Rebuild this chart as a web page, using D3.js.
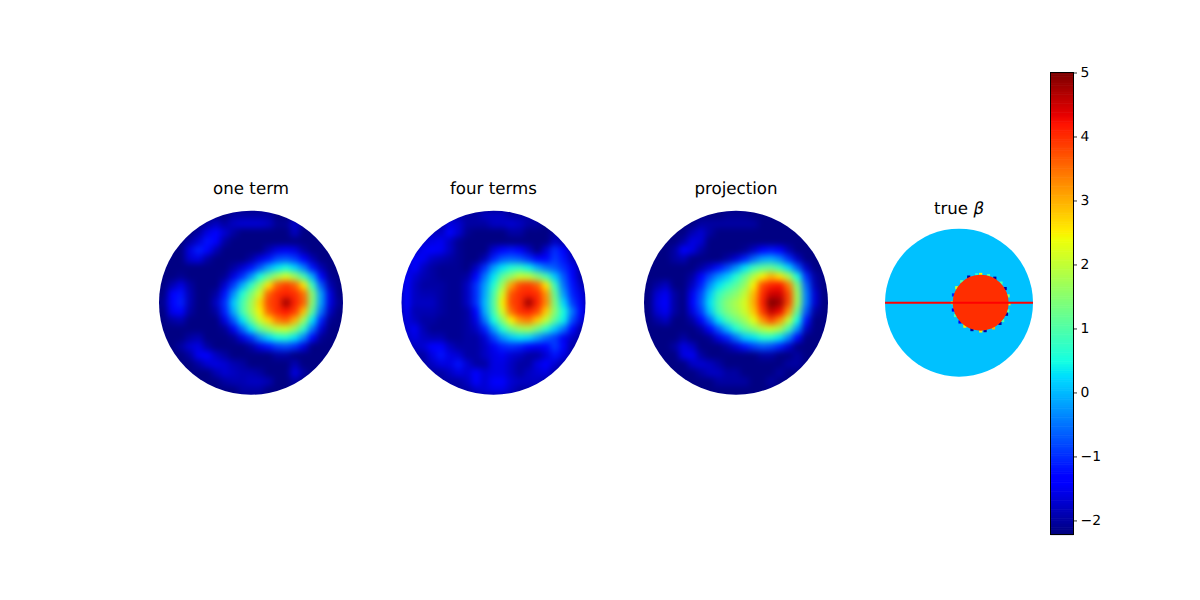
<!DOCTYPE html>
<html><head><meta charset="utf-8">
<script src="https://cdn.jsdelivr.net/npm/d3@7"></script>
<style>html,body{margin:0;background:#fff}svg{display:block}text{font-family:"DejaVu Sans",sans-serif;fill:#000;text-rendering:geometricPrecision}</style>
</head><body><svg id="c" width="1200" height="600"></svg>
<script>
const titles = ["one term","four terms","projection"];
const colorDomain = [-2.22,5];
const colorTicks = [-2,-1,0,1,2,3,4,5];
const oneTerm = [
[-2.2,-2.2,-2.2,-2.2,-2.2,-2.2,-2.2,-2.2,-2.0,-2.0,-2.0,-2.0,-2.0,-2.2,-2.2,-2.2,-2.2,-2.2,-2.2,-2.2,-2.2],
[-2.2,-2.2,-2.2,-2.2,-2.2,-2.0,-1.8,-2.0,-1.8,-1.7,-1.7,-1.7,-1.8,-2.1,-2.1,-1.7,-2.1,-2.2,-2.2,-2.2,-2.2],
[-2.2,-2.2,-2.2,-2.2,-2.0,-1.6,-1.3,-1.7,-2.0,-2.2,-2.2,-2.2,-2.2,-2.2,-2.2,-1.8,-2.2,-2.2,-2.2,-2.2,-2.2],
[-2.2,-2.2,-2.2,-2.0,-1.7,-1.2,-1.4,-2.0,-2.2,-2.2,-2.2,-2.2,-2.2,-2.2,-2.2,-2.2,-2.2,-2.2,-2.2,-2.2,-2.2],
[-2.2,-2.2,-2.2,-1.6,-1.1,-1.3,-1.9,-2.2,-2.2,-2.2,-2.2,-2.2,-1.9,-1.6,-1.5,-1.6,-2.0,-2.2,-2.2,-2.2,-2.2],
[-2.2,-2.2,-2.2,-1.7,-1.6,-2.0,-2.2,-2.2,-2.2,-2.2,-2.0,-1.6,-1.2,-0.8,-0.7,-0.9,-1.4,-1.9,-2.2,-2.2,-2.2],
[-2.2,-2.2,-2.2,-2.2,-2.2,-2.2,-2.2,-2.2,-2.0,-1.7,-1.2,-0.7,-0.1, 0.3, 0.5, 0.2,-0.4,-1.2,-1.9,-2.2,-2.2],
[-2.2,-2.2,-2.1,-2.2,-2.2,-2.2,-2.2,-2.1,-1.6,-1.0,-0.3, 0.5, 1.2, 1.8, 2.2, 1.7, 0.9,-0.1,-1.3,-2.1,-2.2],
[-2.2,-1.9,-1.6,-2.0,-2.2,-2.2,-2.2,-1.7,-0.9,-0.1, 0.7, 1.6, 2.6, 3.6, 3.9, 3.6, 2.6, 0.8,-0.7,-1.9,-2.2],
[-2.2,-1.4,-1.2,-1.9,-2.2,-2.2,-2.0,-1.2,-0.3, 0.6, 1.4, 2.2, 3.6, 4.0, 4.1, 4.0, 3.5, 1.5,-0.2,-1.6,-2.2],
[-2.1,-1.3,-1.1,-1.9,-2.2,-2.2,-1.8,-1.0, 0.1, 0.9, 1.7, 2.7, 3.8, 4.0, 4.8, 4.1, 3.6, 1.5,-0.2,-1.6,-2.1],
[-2.2,-1.5,-1.3,-2.0,-2.2,-2.2,-2.0,-1.1,-0.1, 0.9, 1.7, 2.5, 3.6, 4.0, 4.2, 3.9, 2.9, 1.1,-0.5,-1.8,-2.2],
[-2.2,-2.0,-1.9,-2.2,-2.2,-2.2,-2.2,-1.6,-0.7, 0.3, 1.2, 2.1, 2.7, 3.4, 3.6, 3.0, 1.7, 0.3,-1.1,-2.1,-2.2],
[-2.2,-2.2,-2.2,-2.2,-2.2,-2.2,-2.2,-2.1,-1.5,-0.6, 0.3, 1.1, 1.6, 2.0, 2.1, 1.6, 0.7,-0.5,-1.7,-2.2,-2.2],
[-2.2,-2.2,-2.2,-2.0,-1.9,-2.2,-2.2,-2.2,-2.1,-1.6,-1.0,-0.3, 0.2, 0.5, 0.6, 0.3,-0.4,-1.3,-2.1,-2.2,-2.2],
[-2.2,-2.2,-2.0,-1.7,-1.6,-2.0,-2.2,-2.2,-2.2,-2.2,-2.0,-1.6,-1.2,-0.9,-0.8,-1.0,-1.6,-2.2,-2.2,-2.2,-2.2],
[-2.2,-2.2,-2.2,-2.0,-1.5,-1.4,-1.8,-2.0,-2.2,-2.2,-2.2,-2.2,-2.2,-2.0,-2.0,-2.2,-2.2,-2.2,-2.2,-2.2,-2.2],
[-2.2,-2.2,-2.2,-2.2,-2.0,-1.7,-1.6,-1.7,-1.9,-2.0,-2.2,-2.2,-2.2,-2.2,-2.2,-1.9,-2.2,-2.2,-2.2,-2.2,-2.2],
[-2.2,-2.2,-2.2,-2.2,-2.2,-2.2,-1.9,-1.7,-1.8,-1.9,-1.9,-2.0,-2.2,-2.2,-2.2,-1.6,-2.0,-2.2,-2.2,-2.2,-2.2],
[-2.2,-2.2,-2.2,-2.2,-2.2,-2.2,-2.2,-2.0,-1.9,-1.9,-1.8,-1.8,-1.9,-2.2,-2.2,-2.0,-2.2,-2.2,-2.2,-2.2,-2.2],
[-2.2,-2.2,-2.2,-2.2,-2.2,-2.2,-2.2,-2.2,-2.2,-2.0,-2.0,-2.0,-2.2,-2.2,-2.2,-2.2,-2.2,-2.2,-2.2,-2.2,-2.2]];
const fourTerms = [
[-2.0,-2.0,-2.0,-2.0,-2.0,-2.0,-2.0,-2.0,-2.0,-1.8,-1.8,-1.8,-2.0,-2.0,-2.0,-2.0,-2.0,-2.0,-2.0,-2.0,-2.0],
[-2.0,-2.0,-2.0,-2.0,-2.0,-1.6,-1.7,-2.0,-2.0,-2.0,-1.8,-1.8,-1.7,-1.8,-2.0,-2.0,-2.2,-2.2,-2.2,-2.2,-2.0],
[-2.0,-2.0,-2.0,-1.8,-1.8,-1.3,-1.7,-2.1,-2.2,-2.2,-2.2,-2.2,-2.0,-2.0,-2.2,-2.2,-2.2,-2.0,-2.0,-2.0,-2.0],
[-2.0,-2.0,-1.7,-1.6,-1.5,-1.8,-2.1,-2.2,-2.2,-2.2,-2.2,-2.2,-2.2,-2.2,-2.2,-2.2,-2.2,-1.8,-2.0,-2.0,-2.0],
[-2.0,-1.8,-1.5,-1.4,-1.5,-1.8,-2.1,-2.2,-2.2,-2.2,-1.7,-1.3,-1.2,-1.4,-1.8,-2.2,-1.7,-1.0,-1.4,-2.0,-2.0],
[-2.0,-1.4,-1.5,-1.8,-1.9,-2.0,-2.1,-2.2,-2.2,-1.9,-1.1,-0.7,-0.6,-0.7,-1.0,-1.4,-1.3,-0.9,-1.2,-1.8,-2.0],
[-1.7,-1.4,-1.8,-2.0,-2.1,-2.1,-2.1,-2.2,-1.8,-1.0,-0.2, 0.3, 0.6, 0.7, 0.4,-0.1,-0.5,-0.7,-1.0,-1.5,-2.0],
[-1.4,-1.7,-1.9,-2.0,-2.1,-2.1,-2.1,-2.0,-1.3,-0.5, 0.3, 1.1, 1.6, 2.1, 2.0, 1.5, 0.9, 0.1,-0.7,-1.3,-2.0],
[-1.4,-1.8,-2.0,-2.0,-2.0,-2.1,-2.1,-1.8,-1.0,-0.2, 0.6, 1.7, 3.1, 3.8, 3.9, 3.6, 2.6, 0.8,-0.5,-1.2,-1.8],
[-1.3,-1.8,-1.9,-1.9,-2.0,-2.1,-2.1,-1.8,-1.0,-0.1, 0.9, 2.2, 3.7, 4.0, 4.1, 4.0, 3.2, 1.2,-0.2,-1.1,-1.6],
[-1.3,-1.8,-1.8,-1.8,-2.0,-2.1,-2.1,-1.8,-1.0, 0.0, 1.0, 2.5, 3.8, 4.0, 4.8, 4.1, 3.3, 1.4, 0.2,-0.9,-1.5],
[-1.5,-1.9,-1.9,-1.9,-2.0,-2.1,-2.1,-2.0,-1.3,-0.1, 0.9, 2.2, 3.5, 4.0, 4.1, 3.8, 2.8, 1.5, 0.5,-0.5,-1.4],
[-1.6,-1.8,-2.0,-2.0,-2.1,-2.1,-2.1,-2.0,-1.6,-0.5, 0.5, 1.5, 2.5, 3.2, 3.4, 2.8, 2.0, 1.1, 0.4,-0.8,-1.6],
[-1.7,-1.5,-1.9,-2.1,-2.1,-2.1,-2.1,-2.0,-1.8,-1.1,-0.2, 0.6, 1.3, 1.7, 1.8, 1.3, 0.7, 0.1,-0.5,-1.4,-2.0],
[-1.8,-1.6,-1.8,-1.9,-1.9,-2.1,-2.1,-2.0,-2.0,-1.7,-0.9,-0.3, 0.1, 0.3, 0.2,-0.2,-0.6,-0.9,-1.5,-1.8,-2.0],
[-2.0,-1.8,-1.7,-1.4,-1.4,-1.8,-2.0,-2.0,-2.0,-1.8,-1.5,-1.1,-1.0,-1.1,-1.3,-1.5,-1.4,-0.9,-1.3,-2.0,-2.0],
[-2.0,-2.0,-2.0,-1.6,-1.2,-1.6,-1.7,-2.0,-2.0,-1.8,-1.6,-1.5,-1.7,-1.8,-2.0,-2.0,-1.7,-1.2,-1.6,-2.0,-2.0],
[-2.0,-2.0,-2.0,-1.8,-1.6,-1.6,-1.2,-1.7,-2.0,-2.0,-1.6,-1.6,-1.8,-2.0,-2.0,-1.6,-1.4,-1.7,-2.0,-2.0,-2.0],
[-2.0,-2.0,-2.0,-2.0,-2.0,-1.8,-1.6,-1.7,-1.4,-1.7,-1.6,-1.6,-1.8,-2.0,-1.8,-1.7,-1.6,-2.0,-2.0,-2.0,-2.0],
[-2.0,-2.0,-2.0,-2.0,-2.0,-2.0,-2.0,-1.8,-1.4,-1.7,-1.4,-1.4,-1.7,-1.8,-1.8,-1.8,-2.0,-2.0,-2.0,-2.0,-2.0],
[-2.0,-2.0,-2.0,-2.0,-2.0,-2.0,-2.0,-2.0,-1.8,-1.7,-1.6,-1.6,-1.8,-2.0,-2.0,-2.0,-2.0,-2.0,-2.0,-2.0,-2.0]];
const projection = [
[-2.2,-2.2,-2.2,-2.2,-2.2,-2.2,-2.2,-2.2,-2.2,-2.1,-2.1,-2.1,-2.2,-2.2,-2.2,-2.2,-2.2,-2.2,-2.2,-2.2,-2.2],
[-2.2,-2.2,-2.2,-2.2,-2.2,-2.2,-2.0,-2.0,-2.0,-2.0,-2.0,-2.0,-2.0,-2.2,-2.2,-2.2,-2.2,-2.2,-2.2,-2.2,-2.2],
[-2.2,-2.2,-2.2,-2.2,-2.2,-1.9,-1.7,-2.0,-2.2,-2.2,-2.2,-2.2,-2.2,-2.2,-2.2,-2.2,-2.2,-2.2,-2.2,-2.2,-2.2],
[-2.2,-2.2,-2.2,-2.2,-2.0,-1.6,-1.7,-2.2,-2.2,-2.2,-2.2,-2.2,-2.2,-2.2,-2.2,-2.2,-2.2,-2.2,-2.2,-2.2,-2.2],
[-2.2,-2.2,-2.2,-2.0,-1.4,-1.6,-2.0,-2.2,-2.2,-2.2,-2.2,-2.1,-1.8,-1.4,-1.2,-1.4,-1.9,-2.2,-2.2,-2.2,-2.2],
[-2.2,-2.2,-2.2,-2.0,-1.9,-2.2,-2.2,-2.2,-2.2,-2.0,-1.7,-1.1,-0.6,-0.2,-0.1,-0.4,-1.0,-1.8,-2.2,-2.2,-2.2],
[-2.2,-2.2,-2.2,-2.2,-2.2,-2.2,-2.0,-1.7,-1.2,-0.8,-0.3, 0.3, 0.8, 1.1, 1.2, 0.8, 0.2,-0.7,-1.8,-2.2,-2.2],
[-2.2,-2.2,-2.2,-2.2,-2.2,-2.0,-1.4,-0.8,-0.3, 0.1, 0.6, 1.2, 1.9, 2.5, 3.0, 2.6, 1.8, 0.5,-1.0,-2.0,-2.2],
[-2.2,-2.0,-1.8,-2.2,-2.2,-1.8,-1.1,-0.3, 0.3, 0.7, 1.1, 1.6, 2.5, 3.8, 4.1, 4.2, 3.4, 1.4,-0.6,-1.9,-2.2],
[-2.2,-1.7,-1.5,-2.0,-2.2,-1.5,-0.8, 0.1, 0.8, 1.2, 1.5, 2.0, 2.9, 4.0, 4.5, 4.5, 3.8, 1.7,-0.4,-1.7,-2.2],
[-2.2,-1.6,-1.4,-2.0,-2.2,-1.4,-0.7, 0.3, 1.0, 1.5, 1.8, 2.2, 3.0, 4.1, 5.0, 4.8, 3.8, 1.7,-0.4,-1.7,-2.2],
[-2.2,-1.7,-1.5,-2.0,-2.2,-1.6,-0.9, 0.1, 0.9, 1.4, 1.7, 2.1, 2.8, 3.9, 4.6, 4.3, 3.2, 1.2,-0.7,-2.0,-2.2],
[-2.2,-2.0,-1.8,-2.2,-2.2,-2.0,-1.4,-0.6, 0.3, 0.9, 1.3, 1.7, 2.3, 3.2, 3.8, 3.2, 2.0, 0.5,-1.2,-2.2,-2.2],
[-2.2,-2.2,-2.2,-2.2,-2.2,-2.2,-2.0,-1.4,-0.7, 0.0, 0.6, 1.1, 1.5, 1.9, 2.1, 1.8, 0.9,-0.3,-1.8,-2.2,-2.2],
[-2.2,-2.2,-2.2,-2.2,-2.0,-2.2,-2.2,-2.1,-1.6,-1.1,-0.5, 0.1, 0.3, 0.6, 0.6, 0.3,-0.4,-1.3,-2.2,-2.2,-2.2],
[-2.2,-2.2,-2.2,-2.0,-1.6,-1.8,-2.2,-2.2,-2.2,-2.0,-1.7,-1.2,-0.9,-0.7,-0.8,-1.1,-1.7,-2.2,-2.2,-2.2,-2.2],
[-2.2,-2.2,-2.2,-2.2,-1.6,-1.5,-2.0,-2.2,-2.2,-2.2,-2.2,-2.2,-2.2,-2.0,-2.0,-2.2,-2.2,-2.0,-2.2,-2.2,-2.2],
[-2.2,-2.2,-2.2,-2.2,-2.2,-1.8,-1.7,-1.8,-2.0,-2.2,-2.2,-2.2,-2.2,-2.2,-2.2,-2.2,-2.0,-2.0,-2.2,-2.2,-2.2],
[-2.2,-2.2,-2.2,-2.2,-2.2,-2.2,-2.0,-1.8,-1.8,-2.0,-2.0,-2.2,-2.2,-2.2,-2.2,-2.0,-2.2,-2.2,-2.2,-2.2,-2.2],
[-2.2,-2.2,-2.2,-2.2,-2.2,-2.2,-2.2,-2.2,-2.0,-2.0,-2.0,-2.0,-2.2,-2.2,-2.0,-2.2,-2.2,-2.2,-2.2,-2.2,-2.2],
[-2.2,-2.2,-2.2,-2.2,-2.2,-2.2,-2.2,-2.2,-2.2,-2.2,-2.2,-2.2,-2.2,-2.2,-2.2,-2.2,-2.2,-2.2,-2.2,-2.2,-2.2]];
const panelCentersX = [251,493.5,736];
const trueBackground = 0.05;
const trueInclusion = 4.0;
const inclusionCenter = 0.293;
const inclusionRadius = 0.378;
const edgeAngles = [-180,-164,-148,-132,-115,-98,-90,-74,-60,-44,-30,-14,2,17,24,39,47,63,81,90,108,124,137,153,165];
const edgeValues = [2,-1,2,1,-2,0.5,2.4,1,-2,1,-2,1.5,2.5,1,-2,1,-2,3,-2,2.5,-2,2.5,-1.5,1,-1.5];

const svg = d3.select("#c");
const rS = d3.scaleLinear().domain([0,.35,.66,.89,1]).range([0,0,255,255,127.5]);
const gS = d3.scaleLinear().domain([0,.125,.375,.64,.91,1]).range([0,0,255,255,0,0]);
const bS = d3.scaleLinear().domain([0,.11,.34,.65,1]).range([127.5,255,255,0,0]);
const norm = d3.scaleLinear().domain(colorDomain).range([0,1]).clamp(true);
const jet = v => { const t = norm(v); return `rgb(${Math.round(rS(t))},${Math.round(gS(t))},${Math.round(bS(t))})`; };

const defs = svg.append("defs");
const mkBlur = (id,s) => defs.append("filter").attr("id",id).attr("filterUnits","userSpaceOnUse")
  .attr("x",0).attr("y",0).attr("width",1200).attr("height",600)
  .attr("color-interpolation-filters","sRGB")
  .append("feGaussianBlur").attr("stdDeviation",s);
mkBlur("soft",3);
mkBlur("soft2",0.7);

const R = 92, CY = 302.7;
[oneTerm,fourTerms,projection].forEach((grid,k)=>{
  const cx = panelCentersX[k];
  const id = "clip"+k;
  defs.append("clipPath").attr("id",id).append("circle").attr("cx",cx).attr("cy",CY).attr("r",R);
  const idx = d3.range(grid.length);
  const x = d3.scaleBand().domain(idx).range([cx-R,cx+R]);
  const y = d3.scaleBand().domain(idx).range([CY-R,CY+R]);
  const g = svg.append("g").attr("clip-path",`url(#${id})`).append("g").attr("filter","url(#soft)");
  g.append("rect").attr("x",cx-R-30).attr("y",CY-R-30).attr("width",2*R+60).attr("height",2*R+60).attr("fill",jet(-2.2));
  grid.forEach((row,r)=>{
    g.selectAll(null).data(row).join("rect")
      .attr("x",(d,c)=>x(c)).attr("y",y(r))
      .attr("width",x.bandwidth()+.5).attr("height",y.bandwidth()+.5)
      .attr("fill",d=>jet(d));
  });
  svg.append("text").attr("x",cx).attr("y",194).attr("text-anchor","middle")
    .style("font-size","16.67px").text(titles[k]);
});

// true beta panel
const tCx = 959, tR = 74;
const tx = d3.scaleLinear().domain([-1,1]).range([tCx-tR,tCx+tR]);
const ty = d3.scaleLinear().domain([-1,1]).range([CY+tR,CY-tR]);
svg.append("circle").attr("cx",tx(0)).attr("cy",ty(0)).attr("r",tR).attr("fill",jet(trueBackground));
const eg = svg.append("g").attr("filter","url(#soft2)");
eg.selectAll(null).data(edgeAngles).join("rect")
  .attr("x",a=>tx(inclusionCenter+inclusionRadius*1.01*Math.cos(a*Math.PI/180))-1.6)
  .attr("y",a=>ty(-inclusionRadius*1.01*Math.sin(a*Math.PI/180))-1.6)
  .attr("width",3.2).attr("height",3.2)
  .attr("fill",(a,i)=>jet(edgeValues[i]));
svg.append("circle").attr("cx",tx(inclusionCenter)).attr("cy",ty(0))
  .attr("r",tx(inclusionRadius)-tx(0)).attr("fill",jet(trueInclusion));
svg.append("line").attr("x1",tx(-1)).attr("x2",tx(1)).attr("y1",ty(0)).attr("y2",ty(0))
  .attr("stroke","#ff0000").attr("stroke-width",2);
const tt = svg.append("text").attr("x",tCx).attr("y",214).attr("text-anchor","middle").style("font-size","16.67px");
tt.append("tspan").text("true ");
tt.append("tspan").attr("font-style","italic").text("β");

// colorbar
const cbX = 1050.5, cbW = 23, cbT = 72.5, cbB = 534.5;
const cy = d3.scaleLinear().domain(colorDomain).range([cbB,cbT]);
const levels = d3.range(256);
const lv = d3.scaleBand().domain(levels).range([cbB,cbT]);
svg.append("g").selectAll("rect").data(levels).join("rect")
  .attr("x",cbX).attr("width",cbW).attr("y",d=>lv(d)).attr("height",lv.bandwidth()+.6)
  .attr("fill",d=>jet(colorDomain[0]+(colorDomain[1]-colorDomain[0])*d/255));
svg.append("rect").attr("x",cbX).attr("y",cbT).attr("width",cbW).attr("height",cbB-cbT)
  .attr("fill","none").attr("stroke","#000").attr("stroke-width",1);
const ax = d3.axisRight(cy).tickValues(colorTicks).tickSize(3.5).tickPadding(3.5)
  .tickFormat(d=>String(d).replace("-","\u2212"));
const ag = svg.append("g").attr("transform",`translate(${cbX+cbW},0)`).call(ax);
ag.select(".domain").remove();
ag.selectAll("line").attr("stroke","#000").attr("stroke-width",0.8);
ag.selectAll("text").style("font-size","13.89px").style("font-family",'"DejaVu Sans",sans-serif').attr("fill","#000");
</script></body></html>
